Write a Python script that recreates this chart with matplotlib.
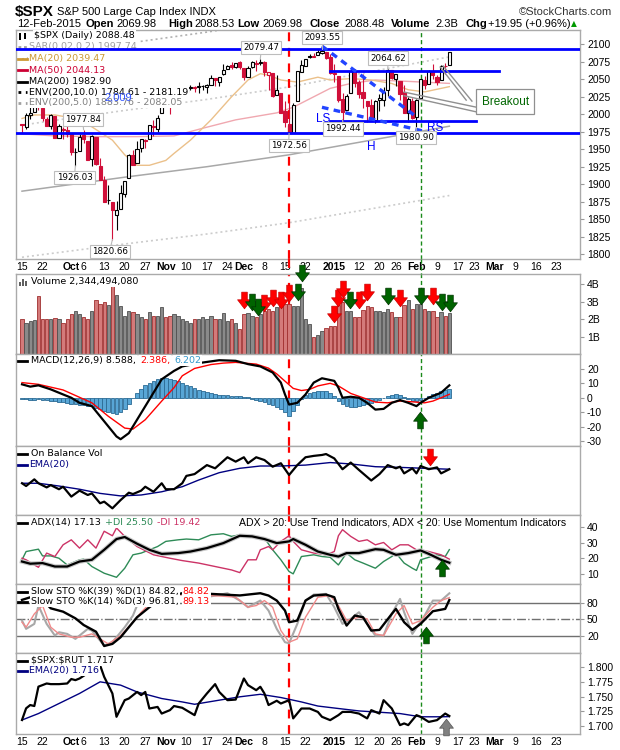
import matplotlib as mpl
mpl.use('Agg')
import matplotlib.pyplot as plt
from matplotlib.path import Path
from matplotlib.lines import Line2D
from matplotlib.patches import Rectangle

plt.rcParams['font.family'] = ['DejaVu Sans']

# ---- $SPX daily candles, 15-Sep-2014 .. 12-Feb-2015 (one value per session)
opens = [1986.0, 1981.9, 1999.3, 2003.1, 2012.7, 2009.1, 1992.8, 1983.3, 1997.3, 1966.2, 1978.96, 1978.2,
         1971.4, 1945.8, 1948.1, 1970.0, 1962.4, 1935.6, 1967.7, 1925.6, 1905.7, 1877.1, 1874.2, 1855.95,
         1864.9, 1885.6, 1909.4, 1941.3, 1931.0, 1951.6, 1962.97, 1964.1, 1983.3, 1979.5, 2001.2,
         2018.2, 2015.8, 2015.3, 2023.3, 2032.4, 2032.0, 2038.2, 2037.8, 2039.2, 2039.7, 2038.3, 2041.5,
         2051.2, 2045.9, 2057.5, 2065.1, 2070.1, 2067.4, 2074.8,
         2065.8, 2053.8, 2067.5, 2073.6, 2072.8, 2074.8, 2056.6, 2058.9, 2027.9, 2030.4, 2005.0, 1986.7,
         1973.8, 2019.0, 2061.0, 2069.3, 2083.0, 2083.3, 2084.3, 2087.6, 2088.5, 2082.1,
         2058.9, 2054.4, 2022.2, 2005.6, 2030.6, 2063.5, 2046.1, 2031.6, 2018.4, 2013.8, 1992.25, 2020.8,
         2020.2, 2034.3, 2063.0, 2050.4, 2047.9, 2032.3, 2002.5, 2019.4,
         1996.7, 2022.7, 2048.9, 2043.5, 2062.3, 2053.5, 2049.4, 2068.5, 2069.98]
highs = [1986.4, 2002.3, 2010.7, 2012.3, 2019.3, 2009.1, 1995.4, 1999.8, 1997.3, 1986.4, 1981.3, 1985.2,
         1971.4, 1952.3, 1971.2, 1977.84, 1962.4, 1970.4, 1967.7, 1937.0, 1912.1, 1898.7, 1874.2, 1876.0,
         1898.2, 1905.0, 1942.5, 1949.3, 1961.95, 1965.3, 1964.6, 1985.2, 1991.4, 1999.4, 2018.2,
         2024.5, 2016.0, 2023.8, 2031.6, 2034.3, 2038.7, 2041.3, 2040.3, 2046.2, 2042.2, 2043.1, 2056.1,
         2052.1, 2053.8, 2071.5, 2070.2, 2074.2, 2073.3, 2075.8,
         2065.8, 2068.8, 2076.3, 2077.3, 2079.47, 2075.8, 2060.6, 2058.9, 2055.5, 2030.4, 2018.7, 2016.9,
         2016.8, 2061.2, 2077.9, 2078.8, 2086.7, 2087.6, 2092.7, 2093.55, 2088.5, 2085.6,
         2072.4, 2054.4, 2030.3, 2029.6, 2064.1, 2064.4, 2049.3, 2056.9, 2018.4, 2021.4, 2020.5, 2028.9,
         2038.3, 2064.62, 2063.0, 2057.6, 2047.9, 2042.5, 2024.6, 2023.3,
         2021.7, 2050.3, 2054.7, 2063.6, 2072.4, 2056.2, 2070.9, 2073.5, 2088.53]
lows = [1973.8, 1979.1, 1993.3, 2003.1, 2006.6, 1991.0, 1982.8, 1978.6, 1965.6, 1966.2, 1964.0, 1968.0,
        1941.7, 1926.03, 1948.1, 1958.4, 1935.1, 1925.3, 1927.6, 1906.05, 1874.1, 1871.8, 1820.66, 1835.0,
        1864.9, 1882.3, 1909.4, 1927.1, 1931.0, 1946.3, 1951.4, 1964.1, 1969.0, 1974.8, 2001.2,
        2013.7, 2001.0, 2014.0, 2015.9, 2025.1, 2030.2, 2035.3, 2031.3, 2030.4, 2035.2, 2030.2, 2041.5,
        2040.4, 2040.5, 2056.8, 2065.1, 2064.8, 2066.6, 2065.1,
        2049.6, 2053.8, 2066.7, 2062.3, 2070.8, 2054.3, 2034.2, 2024.3, 2027.9, 2002.3, 1982.3, 1972.56,
        1973.8, 2019.0, 2061.0, 2069.3, 2079.8, 2081.9, 2084.3, 2085.8, 2079.5, 2057.9,
        2046.0, 2017.3, 1992.44, 2005.6, 2030.6, 2038.3, 2022.6, 2008.3, 1988.4, 1991.5, 1988.12, 2004.5,
        2012.0, 2026.4, 2050.5, 2041.0, 2019.9, 2001.5, 1989.2, 1993.4,
        1980.90, 2022.7, 2036.7, 2043.5, 2050.0, 2041.9, 2048.6, 2058.0, 2069.98]
closes = [1984.13, 1998.98, 2001.57, 2011.36, 2010.40, 1994.29, 1982.77, 1998.30, 1965.99, 1982.85, 1977.80, 1972.29,
          1946.16, 1946.17, 1967.90, 1964.82, 1935.10, 1968.89, 1928.21, 1906.13, 1874.74, 1877.70, 1862.49, 1862.76,
          1886.76, 1904.01, 1941.28, 1927.11, 1950.82, 1964.58, 1961.63, 1985.05, 1982.30, 1994.65, 2018.05,
          2017.81, 2012.10, 2023.57, 2031.21, 2031.92, 2038.26, 2039.68, 2038.25, 2039.33, 2039.82, 2041.32, 2051.80,
          2048.72, 2052.75, 2063.50, 2069.41, 2067.03, 2072.83, 2067.56,
          2053.44, 2066.55, 2074.33, 2071.92, 2075.37, 2060.31, 2059.82, 2026.14, 2035.33, 2002.33, 1989.63, 1972.74,
          2012.89, 2061.23, 2070.65, 2078.54, 2082.17, 2081.88, 2088.77, 2090.57, 2080.35, 2058.90,
          2058.20, 2020.58, 2002.61, 2025.90, 2062.14, 2044.81, 2028.26, 2023.03, 2011.27, 1992.67, 2019.42, 2022.55,
          2032.12, 2063.15, 2051.82, 2057.09, 2029.55, 2002.16, 2021.25, 1994.99,
          2020.85, 2050.03, 2041.51, 2062.52, 2055.47, 2046.74, 2068.59, 2068.53, 2088.48]
prev_close = 1985.54

# volume, billions of shares
volume_b = [2.0, 1.8, 1.9, 1.95, 3.35, 2.0, 2.0, 2.0, 2.05, 2.0, 1.8, 2.0,
            2.3, 2.5, 2.3, 2.1, 2.0, 2.5, 3.1, 2.85, 3.0, 2.8, 3.9, 3.4, 2.75, 2.2, 2.5, 2.4, 2.3, 2.1, 2.0, 2.4,
            2.2, 2.2, 2.7,
            2.1, 2.2, 2.3, 2.2, 2.0, 1.9, 1.8, 2.0, 2.0, 2.1, 2.0, 2.2, 2.0, 2.0, 2.35, 1.9, 2.0, 1.8, 1.45,
            2.3, 2.35, 2.2, 2.1, 2.3, 2.5, 2.6, 2.5, 2.7, 2.8, 2.85, 2.9, 2.75, 2.75, 3.8, 2.0, 1.75, 1.0, 1.1,
            1.35, 1.5, 1.6,
            1.6, 2.8, 3.0, 2.45, 2.45, 2.1, 2.15, 2.55, 2.75, 2.7, 2.5, 2.5, 2.4, 2.6, 2.4, 2.1, 2.1, 2.8, 3.1, 2.6,
            2.85, 2.85, 2.6, 2.5, 2.5, 2.1, 2.4, 2.2, 2.344]
volume_last = 2344494080

# date axis (session index -> label)
tick_idx = [0, 5, 12, 15, 20, 25, 30, 35, 40, 45, 50, 54, 59, 64, 69, 76, 82, 87, 91, 96, 101, 106, 110,
            115, 120, 125, 130]
tick_lab = ['15', '22', 'Oct', '6', '13', '20', '27', 'Nov', '10', '17', '24', 'Dec', '8', '15', '22', '2015',
            '12', '20', '26', 'Feb', '9', '17', '23', 'Mar', '9', '16', '23']
bold_lab = ['Oct', 'Nov', 'Dec', '2015', 'Feb', 'Mar']

# overlays (read at vertices)
ma20_x = [0, 3, 8, 13, 17, 22, 25, 28, 31, 35, 37, 41, 46, 51, 55, 58, 60, 63, 67, 72, 75, 80, 85, 90, 94, 98, 102, 104]
ma20_v = [1994, 1999, 1999, 1994, 1982, 1963, 1942, 1927, 1927, 1934, 1944, 1963, 1992, 2025, 2049, 2058, 2056,
          2049, 2046, 2053, 2049, 2051, 2049, 2044, 2035, 2032, 2037, 2039.47]
ma50_x = [0, 8, 18, 28, 37, 44, 52, 60, 62, 66, 70, 75, 80, 86, 94, 104]
ma50_v = [1972, 1969, 1968, 1968, 1969, 1980, 1992, 2000, 2002, 2010, 2022, 2037, 2044, 2049, 2047, 2044.13]
ma200_x = [0, 25, 45, 65, 85, 104]
ma200_v = [1890, 1910, 1925, 1942, 1963, 1982.9]

# MACD(12,26,9)
macd_x = [0, 2, 4, 7, 10, 12, 14, 17, 19, 21, 23, 24, 26, 28, 31, 34, 37, 39, 43, 48, 52, 55, 58, 61, 63, 64,
          65, 67, 69, 71, 73, 76, 77, 78, 80, 82, 84, 86, 88, 90, 92, 94, 96, 97, 99, 102, 104]
macd_v = [9.3, 7.7, 8.6, 5.8, 2.3, 0.0, -3.5, -5.8, -12.8, -19.8, -26.8, -28.7, -24.5, -15.2, -1.2, 12.8, 18.6,
          21.7, 24.0, 26.0, 25.6, 23.3, 21.7, 17.5, 10.5, 2.3, -4.7, -3.5, 2.3, 10.5, 13.5, 11.7, 7.0, 0.0, 0.7,
          0.0, -3.5, -8.2, -7.7, -3.5, -1.6, -3.5, -5.8, -3.5, 0.0, 3.5, 8.588]
sig_x = [0, 4, 10, 17, 21, 25, 27, 30, 34, 37, 39, 42, 46, 49, 52, 57, 60, 62, 64, 66, 68, 70, 72, 75, 77, 80,
         83, 86, 89, 92, 95, 98, 100, 102, 104]
sig_v = [10.5, 9.3, 5.4, -3.5, -12.8, -21.0, -21.7, -15.2, -2.3, 7.0, 15.2, 20.3, 23.0, 24.0, 24.5, 23.3, 20.5,
         16.5, 11.5, 6.5, 5.0, 5.8, 8.2, 10.0, 8.2, 3.0, 0.0, -3.0, -3.5, -2.3, -2.8, -3.5, -2.3, 0.0, 2.386]
hist = [-1.0, -1.2, -1.5, -1.4, -1.2, -1.5, -1.8, -2.0,
        -2.5, -3.0, -3.2, -3.6, -4.0, -4.5, -4.8, -5.2, -5.6, -6.0,
        -7.0, -8.0, -9.0, -10.0, -10.8, -11.0, -10.0,
        -7.5, -4.0, -0.5,
        3.0, 6.0, 8.5, 10.5, 11.8, 12.8, 13.5, 13.6, 13.2, 12.5,
        11.5, 10.3, 9.0, 7.8, 6.5, 5.5, 4.5, 3.8, 3.2, 2.6,
        2.2, 1.8, 1.6, 1.4, 1.2, 1.0, 0.6, 0.2,
        -0.6, -1.3, -2.0, -3.0, -4.0, -5.2, -6.5, -8.0,
        -10.0, -12.8, -9.5,
        -5.0, -1.0, 2.0,
        3.5, 4.3, 4.8, 5.0, 4.6, 3.5, 1.5,
        -2.0, -4.5, -6.0, -6.5, -6.3, -5.8, -5.0, -4.2, -3.5,
        -2.5, -1.5, -0.3, 1.0, 2.2, 2.6, 1.8,
        0.3, -1.0, -2.0, -2.5, -1.6, -0.5,
        1.5, 2.6, 3.6, 4.4, 5.2, 6.202]

# On Balance Volume (billions, relative) and its EMA(20)
obv_x = [0, 1, 3, 4, 6, 7, 9, 10, 12, 14, 16, 17, 19, 20, 22, 24, 26, 27, 29, 30, 32, 34, 35, 37, 39, 40, 42, 45,
         47, 50, 52, 54, 55, 57, 59, 61, 63, 65, 67, 69, 71, 73, 74, 76, 78, 80, 82, 85, 87, 89, 91, 92, 93, 95,
         96, 97, 99, 101, 102, 104]
obv_v = [13.8, 12.6, 15.5, 13.8, 12.0, 13.0, 11.2, 12.3, 8.0, 10.6, 8.7, 9.4, 5.1, 5.8, 2.9, 6.5, 9.7, 9.1, 10.6,
         12.3, 10.1, 13.8, 11.2, 11.2, 13.8, 17.0, 17.8, 21.7, 20.3, 25.1, 23.2, 25.1, 22.5, 25.1, 23.9, 21.0,
         22.5, 17.4, 21.7, 25.1, 25.7, 26.1, 26.5, 24.6, 19.9, 22.8, 19.6, 15.0, 17.8, 21.7, 20.3, 21.0, 18.1,
         20.3, 18.1, 21.3, 19.9, 20.7, 18.1, 19.9]
obv_ema_x = [0, 4, 9, 14, 19, 24, 29, 34, 39, 43, 48, 53, 58, 63, 69, 75, 80, 86, 92, 98, 104]
obv_ema_v = [13.8, 13.8, 12.6, 11.2, 9.4, 8.3, 8.7, 10.1, 12.3, 15.2, 18.4, 20.3, 21.3, 21.3, 21.7, 22.8, 22.2,
             21.0, 20.7, 20.3, 19.9]

# ADX(14), +DI, -DI
adx_x = [0, 2, 5, 8, 11, 14, 17, 20, 23, 25, 28, 31, 34, 38, 41, 45, 49, 53, 56, 59, 62, 65, 66, 69, 72, 75, 77,
         79, 82, 86, 88, 91, 94, 97, 99, 102, 104]
adx_v = [17.9, 16.5, 16.9, 14.7, 14.7, 17.9, 19.0, 25.4, 32.3, 33.6, 29.3, 25.4, 22.8, 23.3, 24.3, 26.5, 29.7,
         34.4, 34.0, 32.3, 29.7, 30.8, 32.3, 28.6, 24.3, 22.2, 21.1, 23.3, 23.3, 25.8, 25.4, 22.2, 23.3, 25.0,
         22.8, 19.0, 17.13]
pdi_x = [0, 1, 4, 5, 7, 9, 11, 14, 15, 17, 20, 23, 25, 27, 29, 31, 33, 35, 38, 40, 43, 46, 49, 51, 53, 56, 59, 61,
         63, 65, 66, 68, 71, 73, 75, 77, 79, 81, 83, 86, 88, 90, 91, 93, 95, 96, 97, 99, 101, 103, 104]
pdi_v = [19, 24.3, 25.8, 21.5, 21.5, 20, 15.7, 19, 19.4, 14.7, 10.4, 7.8, 13.6, 22.2, 23.3, 25.4, 27.5, 30.8, 31.8,
         32.3, 31.8, 35, 35.7, 34, 35, 33.6, 32.9, 25.4, 19, 11.5, 10, 21.1, 22.2, 21.1, 20.6, 15.7, 23.3, 19,
         16.9, 13.6, 17.9, 21.1, 23.3, 16.9, 13.6, 12.2, 19, 20.6, 22.2, 21.1, 25.5]
mdi_x = [0, 1, 3, 4, 6, 8, 10, 12, 14, 16, 18, 20, 22, 23, 25, 28, 32, 36, 39, 43, 47, 51, 53, 55, 57, 58, 60, 61,
         63, 65, 66, 68, 71, 74, 76, 77, 78, 80, 82, 84, 86, 88, 90, 92, 94, 96, 99, 102, 104]
mdi_v = [20, 19, 15.7, 14.2, 23.3, 21.1, 28.6, 31.8, 26.5, 31.8, 26.5, 37.3, 34.4, 39.4, 34, 27.5, 22.2, 20, 18.5,
         16.9, 14.7, 12.5, 10.8, 19, 19, 25.4, 27.5, 25.4, 30.8, 34.4, 30.8, 25.4, 23.3, 22.2, 24.3, 34.4, 38.3,
         34, 30.8, 31.8, 28.6, 30.1, 25.4, 28.6, 28.6, 25.4, 24.3, 22.2, 19.42]

# Slow stochastics
k39_x = [0, 3, 5, 7, 10, 13, 15, 18, 20, 22, 24, 26, 28, 31, 34, 39, 43, 48, 53, 55, 58, 60, 62, 64, 65, 67, 69,
         71, 74, 76, 77, 79, 81, 83, 85, 87, 90, 91, 93, 95, 97, 100, 103, 104]
k39_v = [85, 92, 85, 69.8, 63.8, 51.8, 39.8, 27.8, 2.0, 5.8, 17.8, 35.8, 53.8, 71.8, 88, 97, 97, 95, 93, 94.6, 97,
         92.8, 83.8, 65.8, 44.8, 47.8, 83.8, 92.8, 94.6, 89.8, 68.8, 38.8, 56.8, 53.8, 29.8, 31, 59.8, 68.8, 44.8,
         31, 41.8, 64.6, 68.8, 84.82]
k14_x = [0, 1, 3, 4, 6, 8, 9, 11, 13, 14, 16, 17, 19, 20, 22, 25, 27, 28, 31, 35, 40, 45, 50, 53, 55, 58, 60, 62,
         64, 65, 67, 69, 71, 74, 76, 78, 80, 82, 84, 86, 88, 90, 92, 93, 95, 98, 100, 102, 104]
k14_v = [47.8, 32.8, 41.8, 74.8, 41.8, 20.8, 26.8, 23.8, 14.8, 20.8, 32.8, 29.8, 11.8, 2.8, 8.8, 35.8, 56.8, 74.8,
         90, 97, 95, 90, 97, 83.8, 71.8, 83.8, 65.8, 32.8, 8.8, 7.0, 41.8, 83.8, 94.6, 95.8, 71.8, 41.8, 50.8,
         62.8, 41.8, 20.8, 20.8, 59.8, 86.8, 62.8, 23.8, 56.8, 83.8, 83.8, 96.81]
d3_x = [0, 1, 3, 5, 7, 9, 12, 14, 17, 19, 21, 24, 27, 29, 32, 36, 42, 48, 52, 55, 57, 59, 61, 63, 65, 67, 69, 72,
        75, 77, 79, 82, 84, 86, 88, 91, 93, 95, 97, 100, 102, 104]
d3_v = [44.8, 35.8, 59.8, 74.8, 35.8, 23.8, 17.8, 17.8, 23.8, 14.8, 5.8, 20.8, 44.8, 62.8, 85, 94, 94, 92, 90, 72,
        74.8, 83.8, 71.8, 29.8, 8.8, 14.8, 53.8, 89.8, 92.8, 74.8, 47.8, 53.8, 50.8, 23.8, 20.8, 59.8, 74.8,
        41.8, 47.8, 71.8, 83.8, 89.13]

# $SPX:$RUT ratio and EMA(20)
rat_x = [0, 1, 2, 3, 4, 6, 7, 9, 11, 12, 13, 14, 16, 18, 19, 20, 22, 23, 25, 26, 28, 29, 30, 31, 33, 34, 36, 37,
         39, 42, 43, 45, 47, 48, 50, 52, 54, 55, 57, 58, 59, 60, 62, 63, 65, 66, 68, 70, 72, 73, 75, 77, 78, 80,
         82, 84, 85, 87, 88, 90, 92, 93, 94, 96, 97, 99, 101, 103, 104]
rat_v = [1.7102, 1.7301, 1.7357, 1.734, 1.767, 1.7724, 1.7713, 1.7713, 1.7724, 1.780, 1.7781, 1.7809, 1.790,
         1.796, 1.8035, 1.7837, 1.7554, 1.7157, 1.744, 1.7468, 1.758, 1.7526, 1.758, 1.7298, 1.7325, 1.7212,
         1.727, 1.734, 1.731, 1.7185, 1.7383, 1.7554, 1.7713, 1.758, 1.744, 1.745, 1.7809, 1.7696, 1.761,
         1.7668, 1.7554, 1.7357, 1.743, 1.7383, 1.744, 1.713, 1.7298, 1.7298, 1.724, 1.7157, 1.710, 1.7185,
         1.724, 1.724, 1.7212, 1.713, 1.727, 1.7212, 1.744, 1.7298, 1.7015, 1.7044, 1.7015, 1.7185, 1.7157,
         1.707, 1.710, 1.7212, 1.717]
rat_ema_x = [0, 4, 9, 14, 19, 24, 28, 34, 39, 42, 48, 53, 58, 63, 68, 72, 77, 82, 88, 92, 97, 102, 104]
rat_ema_v = [1.7102, 1.7212, 1.7383, 1.7554, 1.7752, 1.7696, 1.758, 1.7468, 1.741, 1.737, 1.744, 1.7497, 1.754,
             1.7485, 1.741, 1.734, 1.7298, 1.7257, 1.723, 1.7212, 1.7157, 1.7157, 1.716]

# annotation arrows (session, level)
vol_red_x = [54, 59, 61, 63, 65, 76, 77, 78, 82, 84, 92, 100]
vol_red_y = [3.1, 2.95, 3.2, 3.1, 3.5, 2.3, 3.2, 3.75, 3.1, 3.55, 3.2, 3.35]
vol_green_x = [56, 57.4, 67.2, 68.2, 79.8, 89, 97, 102.2, 104.2]
vol_green_y = [3.0, 2.7, 3.55, 4.65, 3.1, 3.35, 3.35, 3.0, 2.95]

n = len(closes)
W, H = 620, 750
L, R = 16, 580
XL = (-1.46, 135.8)
RED_LINE, GREEN_LINE = 65, 97

fig = plt.figure(figsize=(6.2, 7.5), dpi=100)


def panel(top, bottom, yt=None, ylab=None, ylim=None):
    ax = fig.add_axes([L / W, 1 - bottom / H, (R - L) / W, (bottom - top) / H])
    ax.set_xlim(*XL)
    ax.set_ylim(*ylim)
    ax.yaxis.tick_right()
    ax.tick_params(axis='y', direction='out', length=3, width=0.8, color='#999999', pad=2)
    ax.tick_params(axis='x', length=0, labelbottom=False)
    if yt is not None:
        ax.set_yticks(yt, ylab, fontfamily='Liberation Sans', fontsize=7.5)
    else:
        ax.set_yticks([])
    ax.set_xticks([])
    for s in ax.spines.values():
        s.set_color('#aaaaaa')
        s.set_linewidth(1)
    ax.axvline(RED_LINE, color='#ff0000', ls=(0, (4, 3)), lw=1.6, zorder=2)
    ax.axvline(GREEN_LINE, color='#1a8a1a', ls=(0, (3, 2)), lw=1.0, zorder=2)
    return ax


def date_ticks(ax):
    ax.set_xticks(tick_idx, tick_lab, fontfamily='Liberation Sans', fontsize=7.5)
    ax.tick_params(axis='x', length=0, labelbottom=True, pad=2)
    for t in ax.get_xticklabels():
        if t.get_text() in bold_lab:
            t.set_fontweight('bold')


def chain(target, x, y, parts, size=6.8, family='DejaVu Sans', bg=True, z=8):
    r = fig.canvas.get_renderer()
    for s, c in parts:
        t = target.text(x / W, 1 - y / H, s, color=c, fontsize=size, family=family, va='center', ha='left',
                        transform=fig.transFigure, zorder=z,
                        bbox=dict(fc='white', ec='none', pad=0.8) if bg else None)
        x += t.get_window_extent(renderer=r).width + 4
    return x


def dash(target, x0, x1, y, color, ls='-', lw=2.0, z=9):
    target.add_artist(Line2D([x0 / W, x1 / W], [1 - y / H] * 2, transform=fig.transFigure,
                             color=color, ls=ls, lw=lw, zorder=z))


down = Path([(-0.2, 0.6), (0.2, 0.6), (0.2, 0.05), (0.5, 0.05), (0, -0.6), (-0.5, 0.05), (-0.2, 0.05),
             (-0.2, 0.6)], closed=True)
up = Path([(-0.2, -0.6), (0.2, -0.6), (0.2, -0.05), (0.5, -0.05), (0, 0.6), (-0.5, -0.05), (-0.2, -0.05),
           (-0.2, -0.6)], closed=True)


def arrows(ax, xs, ys, marker, color, edge):
    ax.plot(xs, ys, ls='none', marker=marker, ms=12, color=color, mec=edge, mew=0.5, clip_on=False, zorder=7)


# ---------------- header
fig.text(15 / W, 1 - 12 / H, r'\$SPX', fontsize=11, weight='bold', family='Liberation Sans', va='center')
fig.text(57 / W, 1 - 12 / H, 'S&P 500 Large Cap Index INDX', fontsize=8, family='Liberation Sans', va='center')
fig.text(612 / W, 1 - 12 / H, '\u00a9StockCharts.com', fontsize=8, family='Liberation Sans', va='center',
         ha='right', color='#333333')
chg = closes[-1] - closes[-2]
hdr = [(17, '12-Feb-2015', False), (86, 'Open', True), (116, f'{opens[-1]:.2f}', False),
       (168, 'High', True), (194, f'{highs[-1]:.2f}', False), (237, 'Low', True), (262, f'{lows[-1]:.2f}', False),
       (309, 'Close', True), (344, f'{closes[-1]:.2f}', False), (391, 'Volume', True),
       (435, f'{volume_b[-1]:.1f}B', False), (465, 'Chg', True),
       (488, f'+{chg:.2f} (+{100 * chg / closes[-2]:.2f}%)', False)]
for x, s, b in hdr:
    fig.text(x / W, 1 - 24 / H, s, fontsize=8, family='Liberation Sans', weight='bold' if b else 'normal',
             va='center')
fig.text(571 / W, 1 - 24 / H, '\u25b2', fontsize=5.5, color='#009900', va='center', ha='left')

# ---------------- price panel
ax = panel(30, 259, list(range(1800, 2101, 25)), [str(v) for v in range(1800, 2101, 25)], (1793, 2120.5))
env5_up = [v * 1.05 for v in ma200_v]
env5_dn = [v * 0.95 for v in ma200_v]
env10_up = [v * 1.10 for v in ma200_v]
ax.plot(ma200_x, env10_up, color='#b0b0b0', ls=(0, (1.2, 1.8)), lw=1.2, zorder=1)
ax.plot(ma200_x, env5_up, color='#cccccc', ls=(0, (1.2, 1.8)), lw=1.2, zorder=1)
ax.plot(ma200_x, env5_dn, color='#cccccc', ls=(0, (1.2, 1.8)), lw=1.2, zorder=1)
ax.plot(ma200_x, ma200_v, color='#a8a8a8', lw=1.1, zorder=1)
ax.plot(ma50_x, ma50_v, color='#f0a8b0', lw=1.0, zorder=1)
ax.plot(ma20_x, ma20_v, color='#ebc08a', lw=1.0, zorder=1)

for i in range(n):
    o, h, lo, c = opens[i], highs[i], lows[i], closes[i]
    pc = closes[i - 1] if i else prev_close
    col = '#d0103a' if c < pc else '#000000'
    ax.vlines(i, lo, h, color=col, lw=0.8, zorder=3)
    b0, b1 = min(o, c), max(o, c)
    if b1 - b0 < 0.8:
        b1 = b0 + 0.8
    ax.add_patch(Rectangle((i - 0.38, b0), 0.76, b1 - b0, fc='white' if c > o else col, ec=col, lw=0.8,
                           zorder=4))

# trend lines drawn on the chart
ax.axhline(2093, color='#0000ff', lw=2, zorder=5)
ax.axhline(1973, color='#0000ff', lw=2, zorder=5)
ax.plot([75, 116], [2062.2, 2062.2], color='#0000ff', lw=2, zorder=5)
ax.plot([75, 110.5], [1990.7, 1990.7], color='#0000ff', lw=2, zorder=5)
ax.plot([73, 96.4], [2097.5, 1994.6], color='#2244ff', lw=2.4, ls=(0, (2, 1.6)), zorder=5)
ax.plot([73, 99.8], [2010, 1973], color='#2244ff', lw=2.4, ls=(0, (2, 1.6)), zorder=5)
for (x0, y0), (x1, y1) in [((108.1, 2020.2), (101.8, 2067.5)), ((109.5, 2018.8), (102.5, 2069)),
                           ((110.5, 2010.2), (93, 2031.7)), ((110.5, 2003.5), (93, 2026.5))]:
    ax.plot([x0, x1], [y0, y1], color='#909090', lw=1.0, zorder=5)
ax.add_patch(Rectangle((110.5, 2000), 14.2, 36, fc='white', ec='#909090', lw=0.9, zorder=6))
ax.text(117.6, 2018, 'Breakout', color='#006600', fontsize=8.5, family='Liberation Sans', ha='center',
        va='center', zorder=7)
for s, x, y in [('LS', 73.2, 1993), ('H', 85, 1953), ('RS', 100.5, 1980)]:
    ax.text(x, y, s, color='#0000ff', fontsize=8.5, family='Liberation Sans', ha='center', va='center', zorder=8)

# high / low labels
hl = [(58, 'h', 58.2, 2095.4), (73, 'h', 73, 2109.7), (89, 'h', 89.1, 2080.4), (15, 'h', 14.8, 1992.4),
      (13, 'l', 12.8, 1909.4), (22, 'l', 21.5, 1803.6), (65, 'l', 64.9, 1955), (78, 'l', 78.2, 1979.0),
      (96, 'l', 95.9, 1966.7)]
for i, kind, tx, ty in hl:
    v = highs[i] if kind == 'h' else lows[i]
    ax.plot([tx, i], [ty + (-5 if kind == 'h' else 5), v], color='#b8b8b8', lw=0.8, zorder=5)
    ax.text(tx, ty, f'{v:.2f}', fontsize=6.3, ha='center', va='center', zorder=7,
            bbox=dict(boxstyle='square,pad=0.25', fc='white', ec='#bdbdbd', lw=0.8))

# price legend
chain(ax, 34, 36, [(rf'\$SPX (Daily) {closes[-1]:.2f}', 'black')])
ax.add_artist(Rectangle((18.5 / W, 1 - 39.5 / H), 2 / W, 6 / H, transform=fig.transFigure, fc='black',
                        zorder=9))
ax.add_artist(Rectangle((23.5 / W, 1 - 38.5 / H), 2 / W, 5 / H, transform=fig.transFigure, fc='black',
                        zorder=9))
chain(ax, 29, 47, [('SAR(0.02,0.2) 1997.74', '#a0a0a0')], z=4)
dash(ax, 18, 27, 47, '#a0a0a0', ls=(0, (1, 1)), lw=2, z=4)
rows = [(58.5, f'MA(20) {ma20_v[-1]:.2f}', '#cc9933', '#cc9933', '-'),
        (70, f'MA(50) {ma50_v[-1]:.2f}', '#cc0033', '#cc0033', '-'),
        (81.5, f'MA(200) {ma200_v[-1]:.2f}', 'black', 'black', '-'),
        (92, f'ENV(200,10.0) {ma200_v[-1] * 0.9:.2f} - {env10_up[-1]:.2f}', 'black', 'black', ':'),
        (102.5, f'ENV(200,5.0) {env5_dn[-1]:.2f} - {env5_up[-1]:.2f}', '#808080', '#a0a0a0', ':')]
for y, s, tc, lc, ls in rows:
    dash(ax, 18, 27, y, lc, ls=ls, lw=2)
    chain(ax, 29, y, [(s, tc)])
ax.text(118 / W, 1 - 98 / H, '2,009', color='#3355ff', fontsize=8, family='Liberation Sans', ha='center',
        va='center', transform=fig.transFigure, zorder=10)
date_ticks(ax)

# gap between price and volume panels
for xi, col, ls, lw in [(RED_LINE, '#ff0000', (0, (4, 3)), 1.6), (GREEN_LINE, '#1a8a1a', (0, (3, 2)), 1.0)]:
    xp = L + (xi - XL[0]) / (XL[1] - XL[0]) * (R - L)
    fig.add_artist(Line2D([xp / W] * 2, [1 - 259 / H, 1 - 274 / H], transform=fig.transFigure, color=col,
                          ls=ls, lw=lw))

# ---------------- volume
av = panel(274, 354, [1, 2, 3, 4], ['1B', '2B', '3B', '4B'], (0, 4.6))
for i in range(n):
    pc = closes[i - 1] if i else prev_close
    dn = closes[i] < pc
    av.bar(i, volume_b[i], width=0.8, color='#d47a7a' if dn else '#8a8a8a',
           edgecolor='#a03030' if dn else '#505050', lw=0.6, zorder=3)
arrows(av, vol_red_x, vol_red_y, down, '#ff0000', '#cc0000')
arrows(av, vol_green_x, vol_green_y, down, '#006400', '#003300')
for xx, hh in [(19, 4), (22, 7), (25, 5)]:
    av.add_artist(Rectangle((xx / W, 1 - 286 / H), 2 / W, hh / H, transform=fig.transFigure, fc='#606060',
                            zorder=9))
chain(av, 31, 281.5, [(f'Volume {volume_last:,}', 'black')])

# ---------------- MACD
am = panel(354, 446, [-30, -20, -10, 0, 10, 20], ['-30', '-20', '-10', '0', '10', '20'], (-33.4, 30.3))
am.bar(range(n), hist, width=0.9, color='#58a6d6', edgecolor='#2b6a94', lw=0.6, zorder=3)
am.plot(sig_x, sig_v, color='#ff0000', lw=1.0, zorder=4)
am.plot(macd_x, macd_v, color='black', lw=1.6, zorder=5)
arrows(am, [96.9], [-15.2], up, '#006400', '#003300')
dash(am, 18, 27, 360.5, 'black')
chain(am, 31, 360.5, [(f'MACD(12,26,9) {macd_v[-1]:.3f},', 'black'), (f'{sig_v[-1]:.3f},', '#ff0000'),
                      (f'{hist[-1]:.3f}', '#3399cc')])

# ---------------- OBV
ao = panel(446, 515, None, None, (0, 30))
ao.plot(obv_ema_x, obv_ema_v, color='#000080', lw=1.0, zorder=4)
ao.plot(obv_x, obv_v, color='black', lw=1.6, zorder=5)
arrows(ao, [99.3], [25.2], down, '#ff0000', '#cc0000')
dash(ao, 18, 27, 453.5, 'black')
chain(ao, 31, 453.5, [('On Balance Vol', 'black')])
dash(ao, 18, 27, 465, '#000080')
chain(ao, 29, 465, [('EMA(20)', '#000080')], bg=False)

# ---------------- ADX
aa = panel(515, 584, [10, 20, 30, 40], ['10', '20', '30', '40'], (3.5, 47.7))
aa.plot(pdi_x, pdi_v, color='#2e8b57', lw=1.0, zorder=3)
aa.plot(mdi_x, mdi_v, color='#cc3366', lw=1.0, zorder=3)
aa.plot(adx_x, adx_v, color='#c8c8c8', lw=3.2, zorder=4)
aa.plot(adx_x, adx_v, color='black', lw=1.6, zorder=5)
arrows(aa, [102.2], [13.9], up, '#006400', '#003300')
dash(aa, 18, 27, 522.5, 'black')
chain(aa, 31, 522.5, [(f'ADX(14) {adx_v[-1]:.2f}', 'black'), (f'+DI {pdi_v[-1]:.2f}', '#2e8b57'),
                      (f'-DI {mdi_v[-1]:.2f}', '#cc3366')])
aa.text(239 / W, 1 - 522.5 / H, 'ADX > 20: Use Trend Indicators, ADX < 20: Use Momentum Indicators',
        fontsize=7.6, family='Liberation Sans', va='center', transform=fig.transFigure, zorder=8)

# ---------------- Slow stochastics
ast = panel(584, 653, [20, 50, 80], ['20', '50', '80'], (-10.6, 113.6))
ast.axhline(80, color='#707070', lw=1.0, zorder=1)
ast.axhline(20, color='#707070', lw=1.0, zorder=1)
ast.axhline(50, color='#707070', lw=1.0, ls='-.', zorder=1)
ast.plot(k14_x, k14_v, color='#a8a8a8', lw=1.5, zorder=3)
ast.plot(d3_x, d3_v, color='#f08a8a', lw=1.0, zorder=4)
ast.plot(k39_x, k39_v, color='black', lw=1.7, zorder=5)
arrows(ast, [98.3], [22], up, '#006400', '#003300')
dash(ast, 18, 27, 591.5, 'black')
chain(ast, 31, 591.5, [(f'Slow STO %K(39) %D(1) {k39_v[-1]:.2f},', 'black'), (f'{k39_v[-1]:.2f}', '#ff0000')])
dash(ast, 18, 27, 601.5, 'black')
chain(ast, 31, 601.5, [(f'Slow STO %K(14) %D(3) {k14_v[-1]:.2f},', 'black'), (f'{d3_v[-1]:.2f}', '#ff0000')])

# ---------------- $SPX:$RUT
ar = panel(653, 734, [1.700, 1.725, 1.750, 1.775, 1.800], ['1.700', '1.725', '1.750', '1.775', '1.800'],
           (1.6864, 1.8243))
ar.plot(rat_ema_x, rat_ema_v, color='#000080', lw=1.0, zorder=4)
ar.plot(rat_x, rat_v, color='black', lw=1.6, zorder=5)
arrows(ar, [103.2], [1.6985], up, '#808080', '#555555')
dash(ar, 18, 27, 660.5, 'black')
chain(ar, 31, 660.5, [(rf'\$SPX:\$RUT {rat_v[-1]:.3f}', 'black')])
dash(ar, 18, 27, 670.5, '#000080')
chain(ar, 29, 670.5, [(f'EMA(20) {rat_ema_v[-1]:.3f}', '#000080')])
date_ticks(ar)

fig.savefig('out.png', dpi=100, facecolor='white')
